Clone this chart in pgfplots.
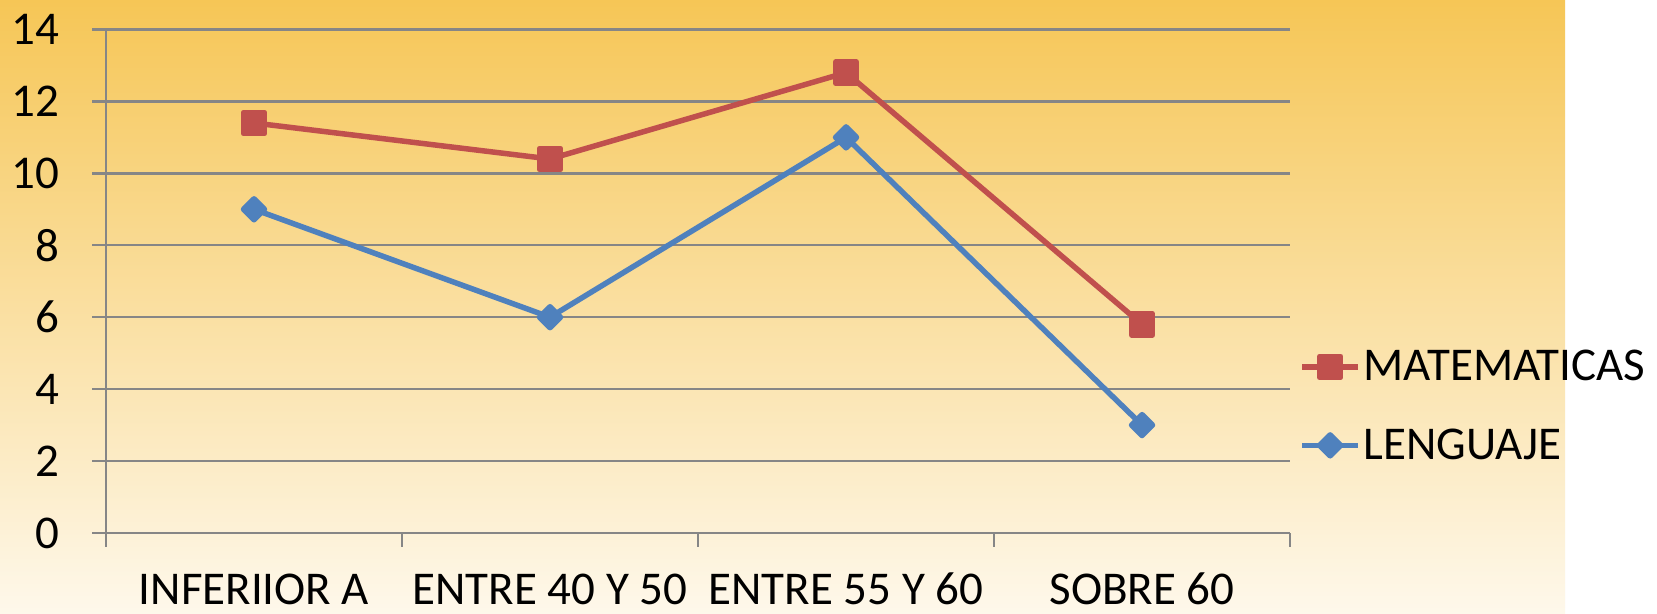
\documentclass[border=0pt]{standalone}
\usepackage{fontspec}
\setmainfont{Carlito}
\usepackage{pgfplots}
\pgfplotsset{compat=1.18}
\definecolor{topc}{RGB}{246,198,86}
\definecolor{botc}{RGB}{254,248,235}
\definecolor{gridc}{RGB}{134,134,134}
\definecolor{mred}{RGB}{192,80,77}
\definecolor{lblue}{RGB}{79,129,189}
\begin{document}
\begin{tikzpicture}[x=0.5bp,y=0.5bp]
\fill[white] (0,0) rectangle (1657,614);
\shade[top color=topc, bottom color=botc] (0,0) rectangle (1565,614);
\begin{axis}[
  at={(53bp,40.5bp)}, anchor=south west,
  scale only axis, width=592bp, height=251.75bp,
  xmin=0, xmax=4, ymin=0, ymax=14,
  ytick={0,2,...,14},
  xtick={0,1,2,3,4}, xticklabels={},
  extra x ticks={0.5,1.5,2.5,3.5},
  extra x tick labels={INFERIIOR A,ENTRE 40 Y 50,ENTRE 55 Y 60,SOBRE 60},
  extra x tick style={major tick length=0pt, xticklabel style={anchor=base, yshift=-36bp, text depth=0pt, inner sep=0pt}},
  ymajorgrids,
  grid style={gridc, line width=1.2bp},
  axis x line*=bottom, axis y line*=left,
  axis line style={gridc, line width=1.2bp},
  tick align=outside,
  major tick length=7bp,
  tick style={gridc, line width=1.2bp},
  /pgf/number format/assume math mode=true,
  ticklabel style={font=\fontsize{23.5bp}{28bp}\selectfont, text=black},
  yticklabel style={anchor=east, inner sep=0pt, xshift=-16bp},
  legend style={at={(1.0076,0.252)}, anchor=west, draw=none, fill=none,
    inner sep=0pt, font=\fontsize{23.5bp}{28bp}\selectfont, row sep=20bp,
    nodes={inner sep=1.25bp}},
  legend cell align=left,
  legend image code/.code={\draw[mark repeat=2,mark phase=2,#1] plot coordinates {(0bp,0bp) (14bp,0bp) (28bp,0bp)};},
]
\addplot[mred, line width=2.75bp, line join=round, mark=square*, mark size=5.25bp, mark options={solid}]
  coordinates {(0.5,11.4) (1.5,10.4) (2.5,12.8) (3.5,5.8)};
\addlegendentry{MATEMATICAS}
\addplot[lblue, line width=2.75bp, line join=round, mark=square*, mark size=3.7bp, mark options={solid, rotate=45}]
  coordinates {(0.5,9) (1.5,6) (2.5,11) (3.5,3)};
\addlegendentry{LENGUAJE}
\end{axis}
\end{tikzpicture}
\end{document}
